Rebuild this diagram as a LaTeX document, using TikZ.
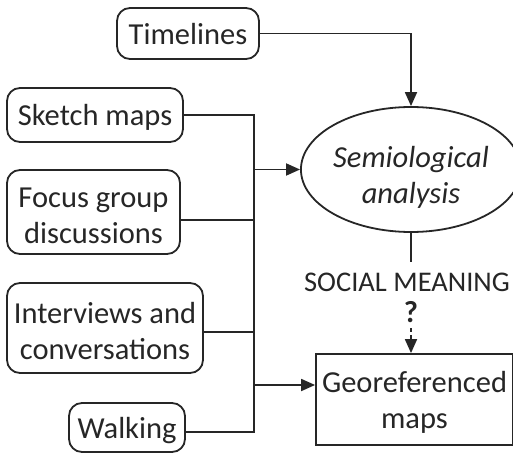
\documentclass[tikz,border=0pt]{standalone}
\usepackage{fontspec}
\setmainfont{Carlito}
\usetikzlibrary{arrows.meta,shapes.geometric}
\newcommand\fstrut{\rule{0pt}{27pt}}
\newcommand\estrut{\rule{0pt}{37pt}}
\begin{document}
\begin{tikzpicture}[x=1pt,y=-1pt,
  every node/.style={font=\fontsize{30.5}{36}\selectfont, inner sep=0pt, text=black!85},
  rbox/.style={draw=black!85, line width=1.8pt, rounded corners=13pt},
  single/.style={text height=26pt, text depth=4pt},
  multi/.style={align=center},
  ln/.style={line width=1.8pt, draw=black!85},
  arr/.style={ln, -{Triangle[length=14pt,width=12pt]}},
  dasharr/.style={ln, dash pattern=on 4pt off 3pt, -{Triangle[length=14pt,width=12pt]}},
]
\useasboundingbox (0,0) rectangle (513,454);

\node[rbox, single, minimum width=142pt, minimum height=51pt] (tl) at (188,33.5) {Timelines};
\node[rbox, single, minimum width=176pt, minimum height=54pt] (sk) at (95,115) {Sketch maps};
\node[rbox, multi, minimum width=173pt, minimum height=84pt] (fg) at (93.5,212) {\fstrut Focus group\\discussions};
\node[rbox, multi, minimum width=196pt, minimum height=90pt] (iv) at (105,328) {\fstrut Interviews and\\conversations};
\node[rbox, single, minimum width=116pt, minimum height=49pt] (wk) at (127,427.5) {Walking};

\node[draw=black!85, ellipse, line width=1.8pt, multi, minimum width=198pt, minimum height=125pt] (ell) at (411,169.5) {\estrut\itshape Semiological\\\itshape analysis};

\node[draw=black!85, line width=1.8pt, multi, minimum width=197pt, minimum height=91pt] (geo) at (414.5,399.5) {\fstrut Georeferenced\\maps};

\node[anchor=base, font=\fontsize{28.5}{34}\selectfont] (sm) at (407,291) {SOCIAL MEANING};
\node[anchor=base] (q) at (411,322) {\textbf{?}};

\coordinate (smt) at (411,262);
\coordinate (qs) at (411,328);
\coordinate (jb) at (254,432);
\coordinate (ga) at (254,385);

% connectors
\draw[arr] (tl.east) -| (ell.north);
\draw[ln] (sk.east) -| (jb) -- ([yshift=-4.5pt]wk.east);
\draw[ln] ([yshift=-8pt]fg.east) -- ([yshift=-8pt]fg.east -| jb);
\draw[ln] ([yshift=-4pt]iv.east) -- ([yshift=-4pt]iv.east -| jb);
\draw[arr] (jb |- ell.west) -- (ell.west);
\draw[arr] (ga) -- (ga -| geo.west);
\draw[ln] (ell.south) -- (smt);
\draw[dasharr] (qs) -- (qs |- geo.north);
\end{tikzpicture}
\end{document}
